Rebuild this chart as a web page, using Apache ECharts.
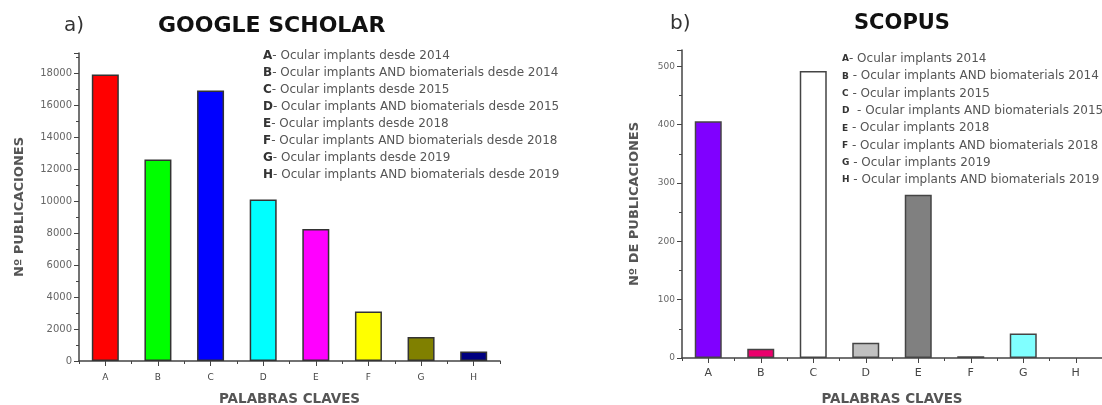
<!DOCTYPE html>
<html>
<head>
<meta charset="utf-8">
<script src="https://cdn.jsdelivr.net/npm/echarts@6/dist/echarts.min.js"></script>
<style>
html,body{margin:0;padding:0;background:#fff;}
#chart{width:1102px;height:405px;}
</style>
</head>
<body>
<div id="chart"></div>
<script>
// ---- data ----
var categories = ['A','B','C','D','E','F','G','H'];
var scholarValues = [17900, 12600, 16900, 10100, 8250, 3100, 1500, 600];
var scopusValues = [406, 16, 492, 26, 280, 3, 42, 0];
var scholarLegend = [
  ['A', '- Ocular implants desde 2014'],
  ['B', '- Ocular implants AND biomaterials desde 2014'],
  ['C', '- Ocular implants desde 2015'],
  ['D', '- Ocular implants AND biomaterials desde 2015'],
  ['E', '- Ocular implants desde 2018'],
  ['F', '- Ocular implants AND biomaterials desde 2018'],
  ['G', '- Ocular implants desde 2019'],
  ['H', '- Ocular implants AND biomaterials desde 2019']
];
var scopusLegend = [
  ['A', '- Ocular implants 2014'],
  ['B', ' - Ocular implants AND biomaterials 2014'],
  ['C', ' - Ocular implants 2015'],
  ['D', '  - Ocular implants AND biomaterials 2015'],
  ['E', ' - Ocular implants 2018'],
  ['F', ' - Ocular implants AND biomaterials 2018'],
  ['G', ' - Ocular implants 2019'],
  ['H', ' - Ocular implants AND biomaterials 2019']
];
// ---- styles ----
var scholarColors = ['#ff0000','#00ff00','#0000ff','#00ffff','#ff00ff','#ffff00','#808000','#000080'];
var scopusColors = ['#8000ff','#eb006c','#ffffff','#c0c0c0','#808080','#000000','#80ffff','#ffffff'];
var FONT = 'DejaVu Sans';

var chart = echarts.init(document.getElementById('chart'));

function yAxisCfg(grid, max, interval, name, nameGap, labelSize) {
  return {
    type: 'value', gridIndex: grid, min: 0, max: max, interval: interval,
    name: name, nameLocation: 'middle', nameGap: nameGap,
    nameTextStyle: {fontFamily: FONT, fontSize: 13, fontWeight: 'bold', color: '#555'},
    axisLine: {show: true, lineStyle: {color: '#444', width: 1.5}},
    axisTick: {show: true, length: 5, lineStyle: {color: '#444'}},
    minorTick: {show: true, splitNumber: 2, length: 3, lineStyle: {color: '#444'}},
    splitLine: {show: false},
    axisLabel: {fontFamily: FONT, fontSize: labelSize, color: '#666', margin: 7, showMaxLabel: false,
      formatter: function (v) { return String(v); }}
  };
}
function xMain(grid, labelSize, labelMargin, nameCenterGap) {
  return {
    type: 'category', gridIndex: grid, data: categories,
    name: 'PALABRAS CLAVES', nameLocation: 'middle', nameGap: nameCenterGap,
    nameTextStyle: {fontFamily: FONT, fontSize: 13.5, fontWeight: 'bold', color: '#555'},
    axisLine: {show: true, lineStyle: {color: '#444', width: 1.5}},
    axisTick: {show: true, alignWithLabel: true, length: 5, lineStyle: {color: '#444'}},
    axisLabel: {fontFamily: FONT, fontSize: labelSize, color: '#444', margin: labelMargin},
    splitLine: {show: false}
  };
}
function xMinor(grid) {
  return {
    type: 'category', gridIndex: grid, data: categories, position: 'bottom',
    axisLine: {show: false},
    axisTick: {show: true, length: 3, lineStyle: {color: '#444'}},
    axisLabel: {show: false}, splitLine: {show: false}
  };
}
function legendGraphics(items, x, y0, step, keySize) {
  return items.map(function (it, i) {
    return {
      type: 'text', left: x, top: y0 + i * step - 8,
      style: {
        text: '{k|' + it[0] + '}{t|' + it[1] + '}',
        rich: {
          k: {fontFamily: FONT, fontSize: keySize, fontWeight: 'bold', fill: '#333', lineHeight: 16},
          t: {fontFamily: FONT, fontSize: 12, fill: '#555', lineHeight: 16}
        }
      }
    };
  });
}

var option = {
  backgroundColor: '#fff',
  animation: false,
  title: [
    {text: 'GOOGLE SCHOLAR', left: 153, top: 10, textStyle: {fontFamily: FONT, fontSize: 22, fontWeight: 'bold', color: '#111'}},
    {text: 'SCOPUS', left: 849, top: 8, textStyle: {fontFamily: FONT, fontSize: 21, fontWeight: 'bold', color: '#111'}}
  ],
  grid: [
    {left: 79, top: 53, width: 421, height: 308, containLabel: false, outerBoundsMode: 'none'},
    {left: 682, top: 50, width: 420, height: 308, containLabel: false, outerBoundsMode: 'none'}
  ],
  xAxis: [xMain(0, 9, 12, 31), xMinor(0), xMain(1, 11, 10, 34), xMinor(1)],
  yAxis: [
    yAxisCfg(0, 19250, 2000, 'Nº PUBLICACIONES', 53, 10),
    yAxisCfg(1, 528, 100, 'Nº DE PUBLICACIONES', 41, 9)
  ],
  series: [
    {
      type: 'bar', xAxisIndex: 0, yAxisIndex: 0, barWidth: 27,
      data: scholarValues.map(function (v, i) {
        return {value: v, itemStyle: {color: scholarColors[i]}};
      }),
      itemStyle: {borderColor: '#333', borderWidth: 1.5}
    },
    {
      type: 'bar', xAxisIndex: 2, yAxisIndex: 1, barWidth: 27,
      data: scopusValues.map(function (v, i) {
        return {value: v, itemStyle: {color: scopusColors[i], borderWidth: v === 0 ? 0 : 1.5}};
      }),
      itemStyle: {borderColor: '#444', borderWidth: 1.5}
    }
  ],
  graphic: [
    {type: 'text', left: 64, top: 16, style: {text: 'a)', fontFamily: FONT, fontSize: 20, fill: '#333'}},
    {type: 'text', left: 670, top: 14, style: {text: 'b)', fontFamily: FONT, fontSize: 20, fill: '#333'}}
  ].concat(legendGraphics(scholarLegend, 263, 58, 17, 12))
   .concat(legendGraphics(scopusLegend, 842, 61, 17.3, 9))
};
chart.setOption(option);
</script>
</body>
</html>
